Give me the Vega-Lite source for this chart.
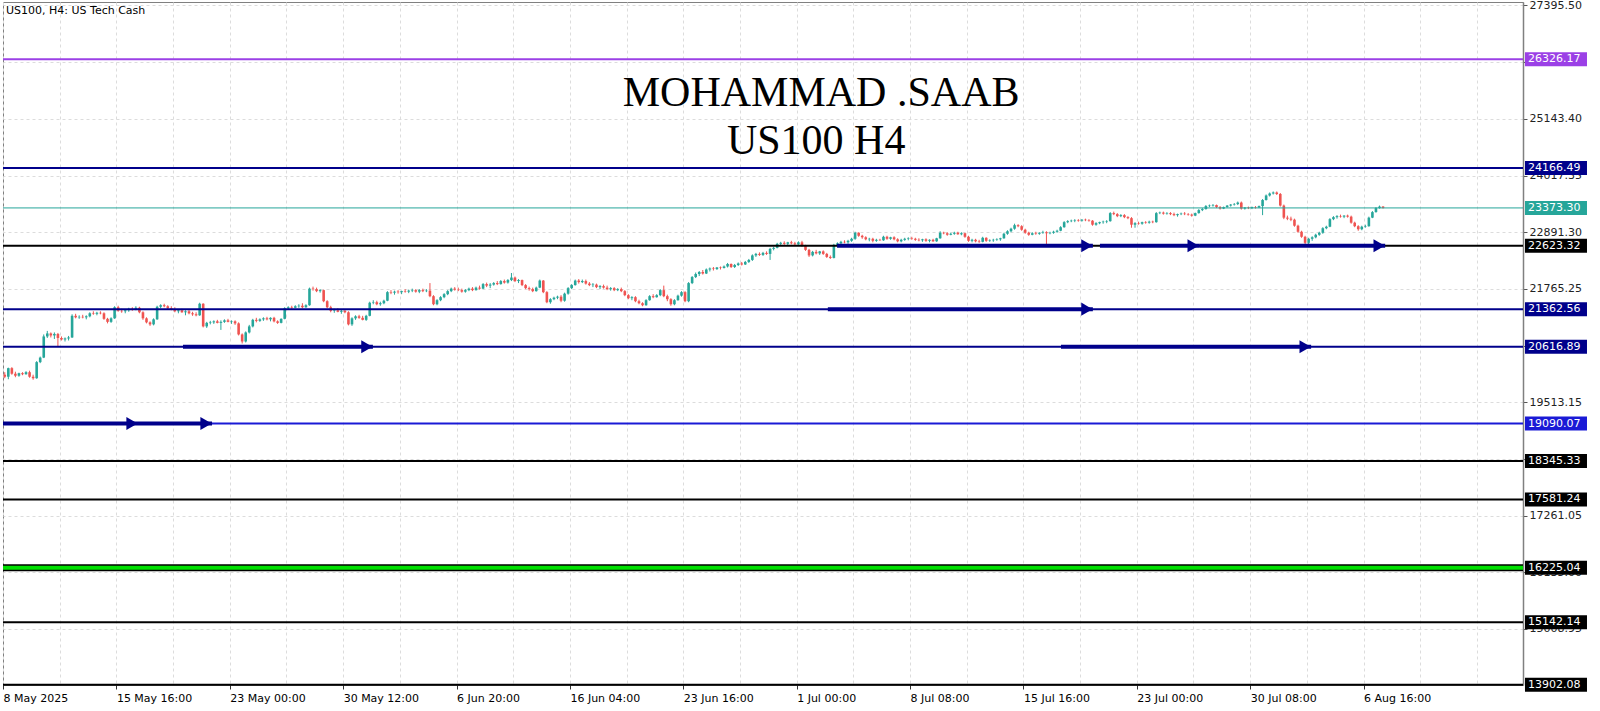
{
"$schema": "https://vega.github.io/schema/vega-lite/v6.json",
"width": 1520, "height": 683,
"autosize": {"type": "none"},
"padding": {"left": 3, "top": 2, "right": 77, "bottom": 26},
"background": "white",
"config": {"view": {"stroke": "#808080", "strokeWidth": 1}, "font": "DejaVu Sans"},
"layer": [
{
"data": {"values": [
{"o":20060,"h":20110,"l":19990,"c":20020},{"o":20020,"h":20200,"l":19970,"c":20190},{"o":20190,"h":20210,"l":20060,"c":20080},{"o":20080,"h":20120,"l":20010,"c":20040},{"o":20040,"h":20100,"l":20020,"c":20090},
{"o":20090,"h":20110,"l":20050,"c":20070},{"o":20070,"h":20130,"l":20060,"c":20110},{"o":20110,"h":20140,"l":20000,"c":20020},{"o":20020,"h":20060,"l":19960,"c":19990},{"o":19990,"h":20330,"l":19980,"c":20310},
{"o":20310,"h":20420,"l":20290,"c":20400},{"o":20400,"h":20860,"l":20390,"c":20820},{"o":20820,"h":20930,"l":20790,"c":20880},{"o":20880,"h":20900,"l":20800,"c":20840},{"o":20840,"h":20900,"l":20770,"c":20870},
{"o":20870,"h":20890,"l":20620,"c":20790},{"o":20790,"h":20820,"l":20740,"c":20760},{"o":20760,"h":20800,"l":20720,"c":20780},{"o":20780,"h":20830,"l":20740,"c":20800},{"o":20800,"h":21260,"l":20790,"c":21230},
{"o":21230,"h":21270,"l":21180,"c":21200},{"o":21200,"h":21240,"l":21170,"c":21210},{"o":21210,"h":21250,"l":21180,"c":21200},{"o":21200,"h":21240,"l":21160,"c":21220},{"o":21220,"h":21300,"l":21200,"c":21280},
{"o":21280,"h":21320,"l":21250,"c":21270},{"o":21270,"h":21310,"l":21240,"c":21290},{"o":21290,"h":21320,"l":21260,"c":21280},{"o":21280,"h":21300,"l":21150,"c":21170},{"o":21170,"h":21190,"l":21080,"c":21110},
{"o":21110,"h":21200,"l":21090,"c":21180},{"o":21180,"h":21420,"l":21170,"c":21400},{"o":21400,"h":21430,"l":21310,"c":21330},{"o":21330,"h":21370,"l":21290,"c":21320},{"o":21320,"h":21360,"l":21280,"c":21340},
{"o":21340,"h":21390,"l":21310,"c":21370},{"o":21370,"h":21400,"l":21330,"c":21350},{"o":21350,"h":21420,"l":21340,"c":21390},{"o":21390,"h":21410,"l":21280,"c":21300},{"o":21300,"h":21320,"l":21150,"c":21180},
{"o":21180,"h":21200,"l":21080,"c":21100},{"o":21100,"h":21120,"l":21030,"c":21060},{"o":21060,"h":21180,"l":21040,"c":21160},{"o":21160,"h":21430,"l":21150,"c":21410},{"o":21410,"h":21460,"l":21380,"c":21440},
{"o":21440,"h":21470,"l":21400,"c":21420},{"o":21420,"h":21440,"l":21360,"c":21380},{"o":21380,"h":21420,"l":21340,"c":21360},{"o":21360,"h":21400,"l":21300,"c":21320},{"o":21320,"h":21360,"l":21280,"c":21340},
{"o":21340,"h":21370,"l":21290,"c":21300},{"o":21300,"h":21340,"l":21240,"c":21320},{"o":21320,"h":21350,"l":21260,"c":21280},{"o":21280,"h":21310,"l":21230,"c":21260},{"o":21260,"h":21300,"l":21220,"c":21240},
{"o":21240,"h":21490,"l":21230,"c":21470},{"o":21470,"h":21480,"l":21000,"c":21020},{"o":21020,"h":21110,"l":20990,"c":21090},{"o":21090,"h":21130,"l":21060,"c":21100},{"o":21100,"h":21140,"l":21070,"c":21120},
{"o":21120,"h":21150,"l":21080,"c":21090},{"o":21090,"h":21140,"l":20950,"c":21110},{"o":21110,"h":21160,"l":21090,"c":21140},{"o":21140,"h":21170,"l":21100,"c":21110},{"o":21110,"h":21140,"l":21070,"c":21120},
{"o":21120,"h":21140,"l":21050,"c":21080},{"o":21080,"h":21100,"l":20840,"c":20860},{"o":20860,"h":20880,"l":20680,"c":20720},{"o":20720,"h":20920,"l":20700,"c":20900},{"o":20900,"h":21050,"l":20880,"c":21020},
{"o":21020,"h":21170,"l":21000,"c":21150},{"o":21150,"h":21190,"l":21100,"c":21130},{"o":21130,"h":21180,"l":21110,"c":21160},{"o":21160,"h":21200,"l":21130,"c":21180},{"o":21180,"h":21210,"l":21140,"c":21160},
{"o":21160,"h":21200,"l":21120,"c":21190},{"o":21190,"h":21210,"l":21100,"c":21120},{"o":21120,"h":21140,"l":21070,"c":21090},{"o":21090,"h":21180,"l":21080,"c":21170},{"o":21170,"h":21400,"l":21160,"c":21380},
{"o":21380,"h":21420,"l":21360,"c":21400},{"o":21400,"h":21430,"l":21370,"c":21390},{"o":21390,"h":21440,"l":21380,"c":21420},{"o":21420,"h":21460,"l":21390,"c":21430},{"o":21430,"h":21480,"l":21380,"c":21400},
{"o":21400,"h":21460,"l":21390,"c":21440},{"o":21440,"h":21790,"l":21430,"c":21770},{"o":21770,"h":21810,"l":21730,"c":21760},{"o":21760,"h":21790,"l":21700,"c":21720},{"o":21720,"h":21760,"l":21690,"c":21740},
{"o":21740,"h":21750,"l":21500,"c":21520},{"o":21520,"h":21540,"l":21380,"c":21400},{"o":21400,"h":21430,"l":21300,"c":21330},{"o":21330,"h":21370,"l":21290,"c":21340},{"o":21340,"h":21380,"l":21300,"c":21310},
{"o":21310,"h":21350,"l":21270,"c":21330},{"o":21330,"h":21360,"l":21280,"c":21300},{"o":21300,"h":21320,"l":21040,"c":21060},{"o":21060,"h":21200,"l":21030,"c":21180},{"o":21180,"h":21240,"l":21150,"c":21220},
{"o":21220,"h":21250,"l":21170,"c":21190},{"o":21190,"h":21230,"l":21140,"c":21150},{"o":21150,"h":21250,"l":21130,"c":21230},{"o":21230,"h":21510,"l":21220,"c":21490},{"o":21490,"h":21540,"l":21460,"c":21500},
{"o":21500,"h":21530,"l":21440,"c":21460},{"o":21460,"h":21510,"l":21430,"c":21480},{"o":21480,"h":21550,"l":21460,"c":21530},{"o":21530,"h":21720,"l":21520,"c":21700},{"o":21700,"h":21740,"l":21660,"c":21690},
{"o":21690,"h":21730,"l":21650,"c":21710},{"o":21710,"h":21740,"l":21670,"c":21700},{"o":21700,"h":21730,"l":21660,"c":21720},{"o":21720,"h":21760,"l":21690,"c":21710},{"o":21710,"h":21750,"l":21680,"c":21730},
{"o":21730,"h":21770,"l":21700,"c":21740},{"o":21740,"h":21760,"l":21690,"c":21710},{"o":21710,"h":21760,"l":21680,"c":21740},{"o":21740,"h":21770,"l":21700,"c":21720},{"o":21720,"h":21760,"l":21700,"c":21730},
{"o":21730,"h":21880,"l":21600,"c":21620},{"o":21620,"h":21640,"l":21440,"c":21460},{"o":21460,"h":21560,"l":21440,"c":21540},{"o":21540,"h":21620,"l":21520,"c":21600},{"o":21600,"h":21680,"l":21580,"c":21660},
{"o":21660,"h":21740,"l":21640,"c":21720},{"o":21720,"h":21790,"l":21700,"c":21770},{"o":21770,"h":21800,"l":21730,"c":21750},{"o":21750,"h":21790,"l":21720,"c":21740},{"o":21740,"h":21770,"l":21690,"c":21710},
{"o":21710,"h":21760,"l":21690,"c":21740},{"o":21740,"h":21790,"l":21720,"c":21770},{"o":21770,"h":21800,"l":21720,"c":21740},{"o":21740,"h":21810,"l":21730,"c":21790},{"o":21790,"h":21830,"l":21750,"c":21770},
{"o":21770,"h":21880,"l":21760,"c":21860},{"o":21860,"h":21890,"l":21800,"c":21830},{"o":21830,"h":21880,"l":21780,"c":21850},{"o":21850,"h":21900,"l":21830,"c":21880},{"o":21880,"h":21920,"l":21840,"c":21860},
{"o":21860,"h":21940,"l":21850,"c":21920},{"o":21920,"h":21950,"l":21870,"c":21890},{"o":21890,"h":21960,"l":21870,"c":21940},{"o":21940,"h":22080,"l":21920,"c":21990},{"o":21990,"h":22010,"l":21900,"c":21920},
{"o":21920,"h":21960,"l":21880,"c":21940},{"o":21940,"h":21950,"l":21820,"c":21840},{"o":21840,"h":21860,"l":21760,"c":21780},{"o":21780,"h":21810,"l":21730,"c":21760},{"o":21760,"h":21790,"l":21700,"c":21720},
{"o":21720,"h":21810,"l":21710,"c":21790},{"o":21790,"h":21950,"l":21780,"c":21930},{"o":21930,"h":21940,"l":21680,"c":21700},{"o":21700,"h":21720,"l":21480,"c":21500},{"o":21500,"h":21580,"l":21470,"c":21560},
{"o":21560,"h":21610,"l":21540,"c":21590},{"o":21590,"h":21630,"l":21560,"c":21610},{"o":21610,"h":21640,"l":21500,"c":21530},{"o":21530,"h":21690,"l":21510,"c":21670},{"o":21670,"h":21800,"l":21650,"c":21780},
{"o":21780,"h":21860,"l":21760,"c":21840},{"o":21840,"h":21950,"l":21830,"c":21930},{"o":21930,"h":21960,"l":21870,"c":21900},{"o":21900,"h":21950,"l":21880,"c":21920},{"o":21920,"h":21950,"l":21850,"c":21870},
{"o":21870,"h":21900,"l":21820,"c":21840},{"o":21840,"h":21880,"l":21800,"c":21850},{"o":21850,"h":21870,"l":21780,"c":21800},{"o":21800,"h":21840,"l":21760,"c":21820},{"o":21820,"h":21850,"l":21770,"c":21790},
{"o":21790,"h":21830,"l":21740,"c":21760},{"o":21760,"h":21800,"l":21730,"c":21780},{"o":21780,"h":21800,"l":21720,"c":21740},{"o":21740,"h":21780,"l":21720,"c":21760},{"o":21760,"h":21790,"l":21700,"c":21720},
{"o":21720,"h":21740,"l":21620,"c":21640},{"o":21640,"h":21660,"l":21560,"c":21580},{"o":21580,"h":21620,"l":21540,"c":21600},{"o":21600,"h":21620,"l":21500,"c":21520},{"o":21520,"h":21550,"l":21460,"c":21480},
{"o":21480,"h":21500,"l":21420,"c":21440},{"o":21440,"h":21560,"l":21430,"c":21540},{"o":21540,"h":21640,"l":21530,"c":21620},{"o":21620,"h":21660,"l":21580,"c":21600},{"o":21600,"h":21660,"l":21590,"c":21640},
{"o":21640,"h":21760,"l":21620,"c":21740},{"o":21740,"h":21830,"l":21600,"c":21620},{"o":21620,"h":21650,"l":21520,"c":21560},{"o":21560,"h":21580,"l":21430,"c":21460},{"o":21460,"h":21560,"l":21440,"c":21540},
{"o":21540,"h":21650,"l":21530,"c":21630},{"o":21630,"h":21720,"l":21610,"c":21700},{"o":21700,"h":21720,"l":21500,"c":21520},{"o":21520,"h":21900,"l":21500,"c":21880},{"o":21880,"h":22020,"l":21860,"c":22000},
{"o":22000,"h":22090,"l":21980,"c":22060},{"o":22060,"h":22120,"l":22020,"c":22100},{"o":22100,"h":22140,"l":22050,"c":22070},{"o":22070,"h":22170,"l":22060,"c":22150},{"o":22150,"h":22190,"l":22110,"c":22170},
{"o":22170,"h":22200,"l":22130,"c":22160},{"o":22160,"h":22200,"l":22140,"c":22190},{"o":22190,"h":22210,"l":22150,"c":22180},{"o":22180,"h":22230,"l":22170,"c":22210},{"o":22210,"h":22280,"l":22190,"c":22260},
{"o":22260,"h":22270,"l":22180,"c":22200},{"o":22200,"h":22260,"l":22180,"c":22240},{"o":22240,"h":22290,"l":22220,"c":22270},{"o":22270,"h":22300,"l":22230,"c":22250},{"o":22250,"h":22320,"l":22240,"c":22300},
{"o":22300,"h":22360,"l":22280,"c":22340},{"o":22340,"h":22450,"l":22320,"c":22430},{"o":22430,"h":22480,"l":22400,"c":22460},{"o":22460,"h":22490,"l":22420,"c":22440},{"o":22440,"h":22500,"l":22420,"c":22480},
{"o":22480,"h":22510,"l":22440,"c":22460},{"o":22460,"h":22580,"l":22340,"c":22560},{"o":22560,"h":22600,"l":22530,"c":22580},{"o":22580,"h":22680,"l":22570,"c":22660},{"o":22660,"h":22700,"l":22630,"c":22680},
{"o":22680,"h":22710,"l":22640,"c":22660},{"o":22660,"h":22700,"l":22620,"c":22690},{"o":22690,"h":22720,"l":22650,"c":22670},{"o":22670,"h":22700,"l":22630,"c":22650},{"o":22650,"h":22710,"l":22640,"c":22690},
{"o":22690,"h":22720,"l":22600,"c":22620},{"o":22620,"h":22640,"l":22520,"c":22540},{"o":22540,"h":22560,"l":22400,"c":22430},{"o":22430,"h":22520,"l":22410,"c":22500},{"o":22500,"h":22540,"l":22450,"c":22470},
{"o":22470,"h":22520,"l":22440,"c":22510},{"o":22510,"h":22530,"l":22440,"c":22460},{"o":22460,"h":22480,"l":22380,"c":22400},{"o":22400,"h":22430,"l":22360,"c":22380},{"o":22380,"h":22660,"l":22370,"c":22640},
{"o":22640,"h":22690,"l":22620,"c":22670},{"o":22670,"h":22720,"l":22650,"c":22700},{"o":22700,"h":22730,"l":22670,"c":22690},{"o":22690,"h":22740,"l":22660,"c":22720},{"o":22720,"h":22780,"l":22700,"c":22760},
{"o":22760,"h":22900,"l":22740,"c":22880},{"o":22880,"h":22890,"l":22800,"c":22820},{"o":22820,"h":22840,"l":22760,"c":22790},{"o":22790,"h":22810,"l":22730,"c":22750},{"o":22750,"h":22780,"l":22710,"c":22760},
{"o":22760,"h":22780,"l":22690,"c":22720},{"o":22720,"h":22760,"l":22700,"c":22740},{"o":22740,"h":22760,"l":22720,"c":22730},{"o":22730,"h":22820,"l":22720,"c":22800},{"o":22800,"h":22820,"l":22740,"c":22760},
{"o":22760,"h":22800,"l":22740,"c":22790},{"o":22790,"h":22810,"l":22730,"c":22750},{"o":22750,"h":22770,"l":22690,"c":22710},{"o":22710,"h":22760,"l":22690,"c":22740},{"o":22740,"h":22780,"l":22720,"c":22760},
{"o":22760,"h":22790,"l":22730,"c":22770},{"o":22770,"h":22800,"l":22740,"c":22760},{"o":22760,"h":22780,"l":22720,"c":22740},{"o":22740,"h":22770,"l":22710,"c":22730},{"o":22730,"h":22760,"l":22700,"c":22750},
{"o":22750,"h":22770,"l":22700,"c":22720},{"o":22720,"h":22750,"l":22690,"c":22740},{"o":22740,"h":22760,"l":22700,"c":22710},{"o":22710,"h":22780,"l":22700,"c":22770},{"o":22770,"h":22910,"l":22760,"c":22880},
{"o":22880,"h":22900,"l":22850,"c":22870},{"o":22870,"h":22890,"l":22820,"c":22840},{"o":22840,"h":22880,"l":22830,"c":22860},{"o":22860,"h":22900,"l":22840,"c":22880},{"o":22880,"h":22900,"l":22840,"c":22850},
{"o":22850,"h":22890,"l":22830,"c":22870},{"o":22870,"h":22880,"l":22780,"c":22800},{"o":22800,"h":22820,"l":22700,"c":22720},{"o":22720,"h":22760,"l":22690,"c":22740},{"o":22740,"h":22760,"l":22690,"c":22710},
{"o":22710,"h":22740,"l":22680,"c":22700},{"o":22700,"h":22800,"l":22690,"c":22780},{"o":22780,"h":22790,"l":22700,"c":22720},{"o":22720,"h":22750,"l":22700,"c":22730},{"o":22730,"h":22760,"l":22700,"c":22740},
{"o":22740,"h":22770,"l":22720,"c":22750},{"o":22750,"h":22780,"l":22720,"c":22770},{"o":22770,"h":22880,"l":22760,"c":22860},{"o":22860,"h":22930,"l":22840,"c":22910},{"o":22910,"h":22980,"l":22890,"c":22960},
{"o":22960,"h":23060,"l":22940,"c":23030},{"o":23030,"h":23050,"l":22990,"c":23010},{"o":23010,"h":23030,"l":22920,"c":22940},{"o":22940,"h":22960,"l":22860,"c":22880},{"o":22880,"h":22900,"l":22820,"c":22840},
{"o":22840,"h":22890,"l":22830,"c":22870},{"o":22870,"h":22900,"l":22840,"c":22860},{"o":22860,"h":22890,"l":22840,"c":22880},{"o":22880,"h":22920,"l":22860,"c":22890},{"o":22890,"h":22910,"l":22630,"c":22870},
{"o":22870,"h":22900,"l":22850,"c":22880},{"o":22880,"h":22920,"l":22860,"c":22900},{"o":22900,"h":22940,"l":22880,"c":22920},{"o":22920,"h":23010,"l":22910,"c":22990},{"o":22990,"h":23110,"l":22980,"c":23090},
{"o":23090,"h":23130,"l":23070,"c":23110},{"o":23110,"h":23140,"l":23090,"c":23120},{"o":23120,"h":23150,"l":23090,"c":23130},{"o":23130,"h":23150,"l":23100,"c":23120},{"o":23120,"h":23150,"l":23100,"c":23140},
{"o":23140,"h":23160,"l":23110,"c":23130},{"o":23130,"h":23150,"l":23100,"c":23120},{"o":23120,"h":23130,"l":23020,"c":23040},{"o":23040,"h":23090,"l":23020,"c":23070},{"o":23070,"h":23100,"l":23050,"c":23090},
{"o":23090,"h":23120,"l":23060,"c":23100},{"o":23100,"h":23130,"l":23070,"c":23110},{"o":23110,"h":23290,"l":23100,"c":23270},{"o":23270,"h":23300,"l":23230,"c":23250},{"o":23250,"h":23270,"l":23190,"c":23210},
{"o":23210,"h":23250,"l":23190,"c":23230},{"o":23230,"h":23250,"l":23170,"c":23190},{"o":23190,"h":23210,"l":23150,"c":23170},{"o":23170,"h":23190,"l":22980,"c":23040},{"o":23040,"h":23090,"l":22980,"c":23070},
{"o":23070,"h":23100,"l":23040,"c":23060},{"o":23060,"h":23100,"l":23040,"c":23090},{"o":23090,"h":23110,"l":23060,"c":23080},{"o":23080,"h":23120,"l":23060,"c":23100},{"o":23100,"h":23120,"l":23070,"c":23090},
{"o":23090,"h":23290,"l":23080,"c":23270},{"o":23270,"h":23300,"l":23250,"c":23280},{"o":23280,"h":23300,"l":23240,"c":23260},{"o":23260,"h":23290,"l":23240,"c":23270},{"o":23270,"h":23290,"l":23230,"c":23250},
{"o":23250,"h":23280,"l":23210,"c":23230},{"o":23230,"h":23260,"l":23200,"c":23250},{"o":23250,"h":23280,"l":23230,"c":23260},{"o":23260,"h":23290,"l":23230,"c":23250},{"o":23250,"h":23270,"l":23220,"c":23240},
{"o":23240,"h":23260,"l":23200,"c":23220},{"o":23220,"h":23280,"l":23210,"c":23270},{"o":23270,"h":23350,"l":23260,"c":23330},{"o":23330,"h":23370,"l":23310,"c":23350},{"o":23350,"h":23430,"l":23340,"c":23410},
{"o":23410,"h":23440,"l":23390,"c":23420},{"o":23420,"h":23450,"l":23400,"c":23430},{"o":23430,"h":23440,"l":23370,"c":23390},{"o":23390,"h":23410,"l":23340,"c":23360},{"o":23360,"h":23400,"l":23350,"c":23390},
{"o":23390,"h":23430,"l":23380,"c":23420},{"o":23420,"h":23450,"l":23400,"c":23440},{"o":23440,"h":23470,"l":23420,"c":23450},{"o":23450,"h":23500,"l":23430,"c":23480},{"o":23480,"h":23500,"l":23340,"c":23360},
{"o":23360,"h":23390,"l":23340,"c":23380},{"o":23380,"h":23400,"l":23350,"c":23370},{"o":23370,"h":23400,"l":23350,"c":23390},{"o":23390,"h":23410,"l":23360,"c":23380},{"o":23380,"h":23420,"l":23370,"c":23410},
{"o":23410,"h":23550,"l":23230,"c":23530},{"o":23530,"h":23640,"l":23520,"c":23620},{"o":23620,"h":23680,"l":23600,"c":23660},{"o":23660,"h":23700,"l":23640,"c":23680},{"o":23680,"h":23700,"l":23630,"c":23650},
{"o":23650,"h":23670,"l":23400,"c":23420},{"o":23420,"h":23440,"l":23150,"c":23180},{"o":23180,"h":23220,"l":23130,"c":23160},{"o":23160,"h":23200,"l":23110,"c":23140},{"o":23140,"h":23160,"l":23000,"c":23020},
{"o":23020,"h":23040,"l":22880,"c":22900},{"o":22900,"h":22920,"l":22780,"c":22800},{"o":22800,"h":22820,"l":22640,"c":22680},{"o":22680,"h":22780,"l":22640,"c":22760},{"o":22760,"h":22810,"l":22720,"c":22790},
{"o":22790,"h":22860,"l":22770,"c":22840},{"o":22840,"h":22900,"l":22820,"c":22880},{"o":22880,"h":22990,"l":22860,"c":22970},{"o":22970,"h":23020,"l":22950,"c":23000},{"o":23000,"h":23170,"l":22990,"c":23150},
{"o":23150,"h":23210,"l":23130,"c":23190},{"o":23190,"h":23230,"l":23160,"c":23210},{"o":23210,"h":23240,"l":23180,"c":23200},{"o":23200,"h":23230,"l":23170,"c":23220},{"o":23220,"h":23240,"l":23180,"c":23200},
{"o":23200,"h":23220,"l":23060,"c":23080},{"o":23080,"h":23100,"l":22990,"c":23010},{"o":23010,"h":23030,"l":22920,"c":22950},{"o":22950,"h":23020,"l":22930,"c":23000},{"o":23000,"h":23040,"l":22980,"c":23010},
{"o":23010,"h":23200,"l":23000,"c":23180},{"o":23180,"h":23310,"l":23170,"c":23290},{"o":23290,"h":23390,"l":23280,"c":23370},{"o":23370,"h":23420,"l":23360,"c":23400},{"o":23400,"h":23410,"l":23360,"c":23373}
]},
"transform": [{"window": [{"op": "row_number", "as": "n"}]}],
"layer": [
{"mark": {"type": "rule", "strokeWidth": 1},
 "encoding": {
  "x": {"field": "n", "type": "quantitative", "scale": {"domain": [0.5, 429.5], "nice": false, "zero": false},
   "axis": {"title": null, "values": [0.5,16.5,32.5,48.5,64.5,80.5,96.5,112.5,128.5,144.5,160.5,176.5,192.5,208.5,224.5,240.5,256.5,272.5,288.5,304.5,320.5,336.5,352.5,368.5,384.5,400.5,416.5],
    "grid": true, "gridColor": "#dcdcdc", "gridDash": [3,3], "gridWidth": 1,
    "domain": false, "ticks": true, "tickSize": 4, "tickColor": "#333333",
    "tickOpacity": {"condition": {"test": "round((datum.value-0.5)/16)%2==0 && datum.value<400", "value": 1}, "value": 0},
    "labelExpr": "(round((datum.value-0.5)/16)%2==0 && datum.value<400) ? ['8 May 2025','15 May 16:00','23 May 00:00','30 May 12:00','6 Jun 20:00','16 Jun 04:00','23 Jun 16:00','1 Jul 00:00','8 Jul 08:00','15 Jul 16:00','23 Jul 00:00','30 Jul 08:00','6 Aug 16:00'][round((datum.value-0.5)/32)] : ''",
    "labelAlign": "left", "labelBaseline": "top", "labelPadding": 3, "labelFont": "DejaVu Sans", "labelFontSize": 11, "labelColor": "#000000", "labelOverlap": false, "labelFlush": false}},
  "y": {"field": "l", "type": "quantitative", "scale": {"domain": [13896, 27464], "nice": false, "zero": false},
   "axis": {"title": null, "orient": "right", "values": [27395.5,26269.45,25143.4,24017.35,22891.3,21765.25,20639.2,19513.15,18387.1,17261.05,16135,15008.95],
    "labelExpr": "(abs(datum.value-26269.45)<1 || abs(datum.value-20639.2)<1 || abs(datum.value-18387.1)<1) ? '' : format(datum.value, '.2f')",
    "grid": true, "gridColor": "#dcdcdc", "gridDash": [3,3], "gridWidth": 1,
    "domain": true, "domainColor": "#808080", "domainWidth": 1.5, "tickSize": 4, "tickColor": "#555555",
    "labelFont": "DejaVu Sans", "labelFontSize": 11, "labelColor": "#222222", "labelPadding": 2, "labelOverlap": false, "labelFlush": false, "labelBaseline": "middle"}},
  "y2": {"field": "h"},
  "color": {"condition": {"test": "datum.c >= datum.o", "value": "#26a69a"}, "value": "#ef5350"}
 }},
{"mark": {"type": "rule", "strokeWidth": 2.6, "strokeCap": "butt"},
 "encoding": {
  "x": {"field": "n", "type": "quantitative", "scale": {"domain": [0.5, 429.5], "nice": false, "zero": false}, "title": null},
  "y": {"field": "o", "type": "quantitative", "scale": {"domain": [13896, 27464], "nice": false, "zero": false}, "title": null},
  "y2": {"field": "c"},
  "color": {"condition": {"test": "datum.c >= datum.o", "value": "#26a69a"}, "value": "#ef5350"}
 }}
]
},
{
"data": {"values": [
 {"p": 26326.17, "set": "violet"},
 {"p": 24166.49, "set": "navy"},
 {"p": 23373.30, "set": "last"},
 {"p": 22623.32, "set": "black"},
 {"p": 21362.56, "set": "navy"},
 {"p": 20616.89, "set": "navy"},
 {"p": 19090.07, "set": "blue"},
 {"p": 18345.33, "set": "black"},
 {"p": 17581.24, "set": "black"},
 {"p": 16225.04, "set": "zone"},
 {"p": 15142.14, "set": "black"},
 {"p": 13902.08, "set": "black"}
]},
"layer": [
 {"transform": [{"filter": "datum.set == 'zone'"}],
  "mark": {"type": "rule", "strokeWidth": 7, "color": "#000000"},
  "encoding": {"y": {"field": "p", "type": "quantitative", "scale": {"domain": [13896, 27464], "nice": false, "zero": false}, "title": null}}},
 {"transform": [{"filter": "datum.set == 'zone'"}],
  "mark": {"type": "rule", "strokeWidth": 4, "color": "#00e000"},
  "encoding": {"y": {"field": "p", "type": "quantitative", "scale": {"domain": [13896, 27464], "nice": false, "zero": false}, "title": null}}},
 {"transform": [{"filter": "datum.set != 'zone' && datum.set != 'last'"}],
  "mark": {"type": "rule", "strokeWidth": 2},
  "encoding": {"y": {"field": "p", "type": "quantitative", "scale": {"domain": [13896, 27464], "nice": false, "zero": false}, "title": null},
   "color": {"field": "set", "type": "nominal", "legend": null, "scale": {"domain": ["violet","navy","last","black","blue","zone"], "range": ["#9b40e6","#00008b","#26a69a","#000000","#1a1ad6","#000000"]}}}},
 {"transform": [{"filter": "datum.set == 'last'"}],
  "mark": {"type": "rule", "strokeWidth": 1},
  "encoding": {"y": {"field": "p", "type": "quantitative", "scale": {"domain": [13896, 27464], "nice": false, "zero": false}, "title": null},
   "color": {"field": "set", "type": "nominal", "legend": null, "scale": {"domain": ["violet","navy","last","black","blue","zone"], "range": ["#9b40e6","#00008b","#26a69a","#000000","#1a1ad6","#000000"]}}}},
 {"mark": {"type": "rect", "height": 14},
  "encoding": {"x": {"datum": 430.06, "type": "quantitative", "scale": {"domain": [0.5, 429.5], "nice": false, "zero": false}, "title": null},
   "x2": {"datum": 447.56},
   "y": {"field": "p", "type": "quantitative", "scale": {"domain": [13896, 27464], "nice": false, "zero": false}, "title": null},
   "color": {"field": "set", "type": "nominal", "legend": null, "scale": {"domain": ["violet","navy","last","black","blue","zone"], "range": ["#9b40e6","#00008b","#26a69a","#000000","#1a1ad6","#000000"]}}}},
 {"mark": {"type": "text", "align": "left", "baseline": "middle", "font": "DejaVu Sans", "fontSize": 11, "color": "#ffffff"},
  "encoding": {"x": {"datum": 430.9, "type": "quantitative", "scale": {"domain": [0.5, 429.5], "nice": false, "zero": false}, "title": null},
   "y": {"field": "p", "type": "quantitative", "scale": {"domain": [13896, 27464], "nice": false, "zero": false}, "title": null},
   "text": {"field": "p", "type": "quantitative", "format": ".2f"}}}
]
},
{
"data": {"values": [
 {"p": 22623.32, "t0": 235.9, "t1": 308.1},
 {"p": 22623.32, "t0": 310.1, "t1": 338.1},
 {"p": 22623.32, "t0": 338.1, "t1": 390.6},
 {"p": 21362.56, "t0": 233.3, "t1": 308.1},
 {"p": 20616.89, "t0": 51.3, "t1": 104.9},
 {"p": 20616.89, "t0": 299.1, "t1": 369.7},
 {"p": 19090.07, "t0": 0.5, "t1": 38.6},
 {"p": 19090.07, "t0": 38.6, "t1": 59.5}
]},
"layer": [
 {"mark": {"type": "rule", "strokeWidth": 4, "color": "#00008b", "strokeCap": "butt"},
  "encoding": {"x": {"field": "t0", "type": "quantitative", "scale": {"domain": [0.5, 429.5], "nice": false, "zero": false}, "title": null},
   "x2": {"field": "t1"},
   "y": {"field": "p", "type": "quantitative", "scale": {"domain": [13896, 27464], "nice": false, "zero": false}, "title": null}}},
 {"mark": {"type": "point", "shape": "triangle-right", "filled": true, "size": 170, "color": "#00008b", "opacity": 1, "xOffset": -6},
  "encoding": {"x": {"field": "t1", "type": "quantitative", "scale": {"domain": [0.5, 429.5], "nice": false, "zero": false}, "title": null},
   "y": {"field": "p", "type": "quantitative", "scale": {"domain": [13896, 27464], "nice": false, "zero": false}, "title": null}}}
]
},
{
"data": {"values": [
 {"txt": "MOHAMMAD .SAAB", "tx": 231.4, "ty": 25656, "role": "title"},
 {"txt": "US100 H4", "tx": 230.0, "ty": 24703, "role": "title"}
]},
"mark": {"type": "text", "font": "Liberation Serif", "fontSize": 42, "align": "center", "baseline": "middle", "color": "#000000"},
"encoding": {
 "x": {"field": "tx", "type": "quantitative", "scale": {"domain": [0.5, 429.5], "nice": false, "zero": false}, "title": null},
 "y": {"field": "ty", "type": "quantitative", "scale": {"domain": [13896, 27464], "nice": false, "zero": false}, "title": null},
 "text": {"field": "txt"}}
},
{
"data": {"values": [{"txt": "US100, H4:  US Tech Cash", "tx": 1.35, "ty": 27285}]},
"mark": {"type": "text", "font": "DejaVu Sans", "fontSize": 11, "align": "left", "baseline": "middle", "color": "#000000"},
"encoding": {
 "x": {"field": "tx", "type": "quantitative", "scale": {"domain": [0.5, 429.5], "nice": false, "zero": false}, "title": null},
 "y": {"field": "ty", "type": "quantitative", "scale": {"domain": [13896, 27464], "nice": false, "zero": false}, "title": null},
 "text": {"field": "txt"}}
}
]
}
